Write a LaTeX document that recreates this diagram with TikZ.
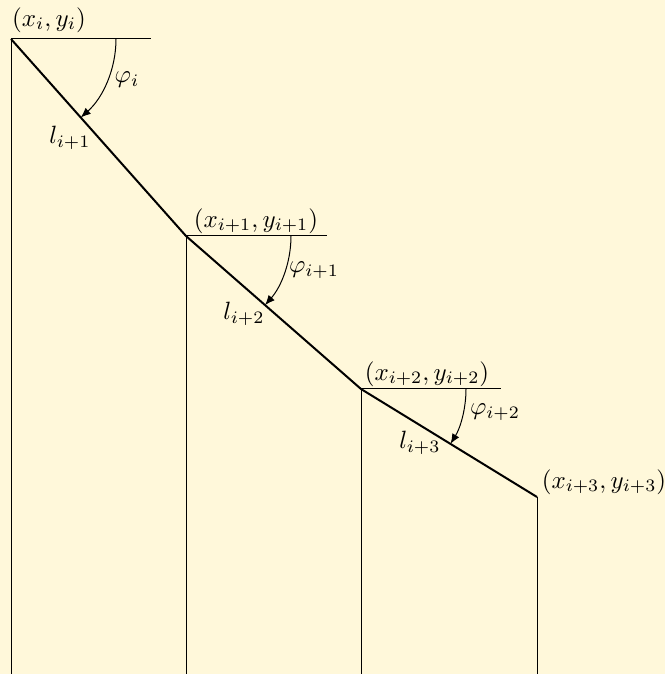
\documentclass[tikz,border=0pt]{standalone}
\usetikzlibrary{arrows.meta}
\definecolor{bgcream}{RGB}{255,248,218}
\begin{document}
\begin{tikzpicture}[x=0.4pt,y=0.4pt,
  chain/.style={line width=0.8pt},
  thinline/.style={line width=0.4pt},
  anglearrow/.style={line width=0.4pt,-{Latex[length=4pt,width=3.2pt]}},
  lab/.style={inner sep=0pt}]
\fill[bgcream] (0,0) rectangle (665,674);
\useasboundingbox (0,0) rectangle (665,674);
% points
\coordinate (P0) at (11,635);
\coordinate (P1) at (186,438);
\coordinate (P2) at (361,285);
\coordinate (P3) at (537,177);
\coordinate (B0) at (11,0);
\coordinate (B1) at (186,0);
\coordinate (B2) at (361,0);
\coordinate (B3) at (537,0);
\coordinate (H0) at (151,635);
\coordinate (H1) at (327,438);
\coordinate (H2) at (501,285);
% verticals and horizontals
\draw[thinline] (P0) -- (B0);
\draw[thinline] (P1) -- (B1);
\draw[thinline] (P2) -- (B2);
\draw[thinline] (P3) -- (B3);
\draw[thinline] (P0) -- (H0);
\draw[thinline] (P1) -- (H1);
\draw[thinline] (P2) -- (H2);
% chain
\draw[chain] (P0) -- (P1) -- (P2) -- (P3);
% angle arcs
\draw[anglearrow] ([xshift=42pt]P0) arc[start angle=0,end angle=-48.4,radius=42pt];
\draw[anglearrow] ([xshift=42pt]P1) arc[start angle=0,end angle=-41.2,radius=42pt];
\draw[anglearrow] ([xshift=42pt]P2) arc[start angle=0,end angle=-31.5,radius=42pt];
% labels
\node[lab] (c0) at (49,654) {$(x_i,y_i)$};
\node[lab] (c1) at (256,453) {$(x_{i+1},y_{i+1})$};
\node[lab] (c2) at (427,300) {$(x_{i+2},y_{i+2})$};
\node[lab] (c3) at (604,192) {$(x_{i+3},y_{i+3})$};
\node[lab] (f0) at (127,594) {$\varphi_i$};
\node[lab] (f1) at (314,404) {$\varphi_{i+1}$};
\node[lab] (f2) at (495,262) {$\varphi_{i+2}$};
\node[lab] (l1) at (70,536) {$l_{i+1}$};
\node[lab] (l2) at (244,360) {$l_{i+2}$};
\node[lab] (l3) at (420,231) {$l_{i+3}$};
\end{tikzpicture}
\end{document}
